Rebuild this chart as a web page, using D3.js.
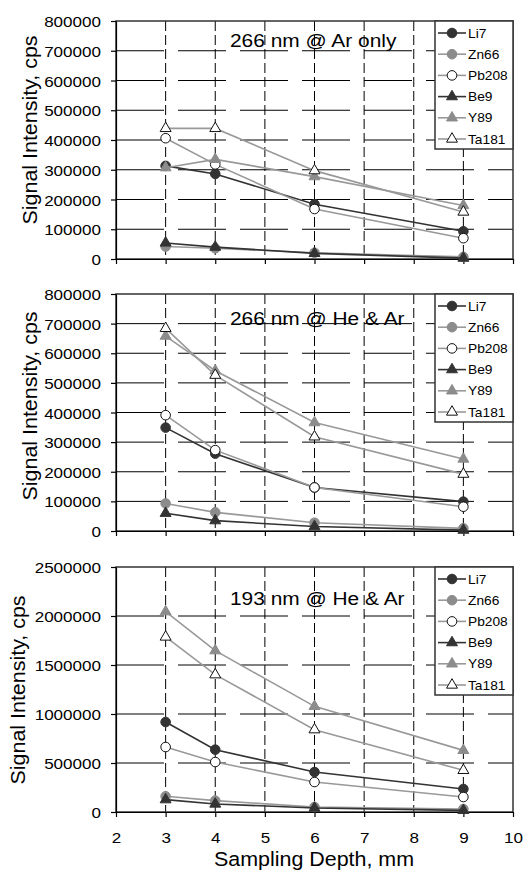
<!DOCTYPE html>
<meta charset="utf-8">

<style type='text/css'>
  body { margin: 0; background: #fff; }
  text { font-family: Arial, "Liberation Sans", sans-serif; fill: #000; }
  .hgrid { stroke: #000; stroke-width: 1; stroke-dasharray: 48,14; }
  .vgrid { stroke: #000; stroke-width: 1; stroke-dasharray: 10,4; }
  .frame { fill: none; stroke: #333; stroke-width: 1.5; }
  .legend-box { fill: #fff; stroke: #333; stroke-width: 1.5; }
  .axis path, .axis line { stroke: #000; stroke-width: 1.2; }
</style>

<body>
<div id="chart"></div>
<script src="https://d3js.org/d3.v7.min.js"></script>
<script>

// sampling depth (mm) and the six isotopes
var depth = [3, 4, 6, 9];
var elements = ["Li7", "Zn66", "Pb208", "Be9", "Y89", "Ta181"];

// signal intensity, cps -- one row per element, same order as above
var arOnly266 = [
  [313000, 286000, 184000, 93000],
  [42000, 36000, 21000, 7000],
  [406000, 318000, 168000, 70000],
  [54000, 40000, 19000, 3000],
  [307000, 335000, 277000, 180000],
  [439000, 439000, 297000, 158000]
];
var heAr266 = [
  [349000, 261000, 147000, 99000],
  [93000, 63000, 28000, 9000],
  [391000, 273000, 147000, 82000],
  [60000, 35000, 15000, 3000],
  [658000, 541000, 366000, 243000],
  [684000, 526000, 318000, 192000]
];
var heAr193 = [
  [918000, 636000, 408000, 235000],
  [160000, 116000, 51000, 31000],
  [663000, 510000, 306000, 153000],
  [126000, 82000, 41000, 17000],
  [2044000, 1646000, 1078000, 629000],
  [1786000, 1401000, 840000, 425000]
];

var panelTitles = ["266 nm @ Ar only", "266 nm @ He & Ar", "193 nm @ He & Ar"];
var yMax = [800000, 800000, 2500000];
var yStep = [100000, 100000, 500000];
var xTicks = [2, 3, 4, 5, 6, 7, 8, 9, 10];

var width = 527,
    height = 872,
    left = 116,
    right = 513,
    stretch = 1.1;

// look of each series
var marks = [
  {shape: "circle", fill: "#333", stroke: "#333", line: "#333"},
  {shape: "circle", fill: "#8c8c8c", stroke: "#8c8c8c", line: "#999"},
  {shape: "circle", fill: "#fff", stroke: "#111", line: "#999"},
  {shape: "triangle", fill: "#333", stroke: "#333", line: "#333"},
  {shape: "triangle", fill: "#8c8c8c", stroke: "#8c8c8c", line: "#999"},
  {shape: "triangle", fill: "#fff", stroke: "#111", line: "#999"}
];

var panels = [
  {data: arOnly266, top: 21, bottom: 259, titleY: 47, labelX: 37, labelY: 130},
  {data: heAr266, top: 294, bottom: 531, titleY: 325, labelX: 37, labelY: 406},
  {data: heAr193, top: 567, bottom: 812, titleY: 605, labelX: 25, labelY: 690}
];

var svg = d3.select("#chart").append("svg")
    .attr("width", width)
    .attr("height", height);

var x = d3.scaleLinear().domain([2, 10]).range([left, right]);

var triangle = d3.symbol().type(d3.symbolTriangle).size(52);

function drawMarker(g, m, px, py) {
  if (m.shape === "circle") {
    g.append("circle")
        .attr("cx", px).attr("cy", py).attr("r", 4.8)
        .attr("fill", m.fill).attr("stroke", m.stroke).attr("stroke-width", 1);
  } else {
    g.append("path")
        .attr("d", triangle)
        .attr("transform", "translate(" + px + "," + py + ")")
        .attr("fill", m.fill).attr("stroke", m.stroke).attr("stroke-width", 1);
  }
}

panels.forEach(function(p, pi) {
  var g = svg.append("g");
  var y = d3.scaleLinear().domain([0, yMax[pi]]).range([p.bottom, p.top]);
  var yTicks = d3.range(0, yMax[pi] + 1, yStep[pi]);

  // gridlines
  g.selectAll(".hgrid")
      .data(yTicks.filter(function(t) { return t > 0 && t < yMax[pi]; }))
    .enter().append("line")
      .attr("class", "hgrid")
      .attr("x1", left).attr("x2", right)
      .attr("y1", function(d) { return y(d); })
      .attr("y2", function(d) { return y(d); });

  g.selectAll(".vgrid")
      .data(xTicks.filter(function(t) { return t > 2 && t < 10; }))
    .enter().append("line")
      .attr("class", "vgrid")
      .attr("x1", function(d) { return x(d); })
      .attr("x2", function(d) { return x(d); })
      .attr("y1", p.top).attr("y2", p.bottom);

  g.append("rect")
      .attr("class", "frame")
      .attr("x", left).attr("y", p.top)
      .attr("width", right - left).attr("height", p.bottom - p.top);

  // axes
  var yAxis = g.append("g")
      .attr("class", "axis")
      .attr("transform", "translate(" + left + ",0)")
      .call(d3.axisLeft(y).tickValues(yTicks).tickSize(5).tickSizeOuter(0).tickFormat(d3.format("d")));
  yAxis.selectAll("text")
      .attr("x", null)
      .attr("dy", "0.36em")
      .attr("font-size", 15.5)
      .attr("transform", "translate(-15,0) scale(" + stretch + ",1)");

  var xAxis = g.append("g")
      .attr("class", "axis")
      .attr("transform", "translate(0," + p.bottom + ")")
      .call(d3.axisBottom(x).tickValues(xTicks).tickSize(5).tickSizeOuter(0)
        .tickFormat(pi === 2 ? d3.format("d") : ""));
  xAxis.selectAll("text")
      .attr("y", null)
      .attr("dy", null)
      .attr("font-size", 15.5)
      .attr("transform", "translate(0,31) scale(" + stretch + ",1)");
  g.selectAll(".axis text").attr("fill", "#000").attr("font-family", "Arial, 'Liberation Sans', sans-serif");

  // series
  var line = d3.line()
      .x(function(d, i) { return x(depth[i]); })
      .y(function(d) { return y(d); });

  p.data.forEach(function(vals, si) {
    var m = marks[si];
    g.append("path")
        .attr("d", line(vals))
        .attr("fill", "none")
        .attr("stroke", m.line)
        .attr("stroke-width", 1.6);
    vals.forEach(function(v, i) {
      drawMarker(g, m, x(depth[i]), y(v));
    });
  });

  // title
  g.append("text")
      .attr("transform", "translate(230," + p.titleY + ") scale(" + stretch + ",1)")
      .attr("font-size", 19)
      .text(panelTitles[pi]);

  // y label
  g.append("text")
      .attr("transform", "translate(" + p.labelX + "," + p.labelY + ") rotate(-90) scale(" + stretch + ",1)")
      .attr("text-anchor", "middle")
      .attr("font-size", 19.5)
      .text("Signal Intensity, cps");

  // legend
  var lg = g.append("g")
      .attr("transform", "translate(435," + p.top + ")");
  lg.append("rect")
      .attr("class", "legend-box")
      .attr("width", right - 435)
      .attr("height", 128);
  elements.forEach(function(name, si) {
    var m = marks[si];
    var ly = 12 + si * 21.2;
    lg.append("line")
        .attr("x1", 3).attr("x2", 31)
        .attr("y1", ly).attr("y2", ly)
        .attr("stroke", m.line).attr("stroke-width", 1.6);
    drawMarker(lg, m, 17, ly);
    lg.append("text")
        .attr("transform", "translate(33," + ly + ") scale(" + stretch + ",1)")
        .attr("dy", "0.36em")
        .attr("font-size", 12.5)
        .text(name);
  });
});

// x axis title
svg.append("text")
    .attr("transform", "translate(314,866) scale(" + stretch + ",1)")
    .attr("text-anchor", "middle")
    .attr("font-size", 19.5)
    .text("Sampling Depth, mm");

</script>
</body>
